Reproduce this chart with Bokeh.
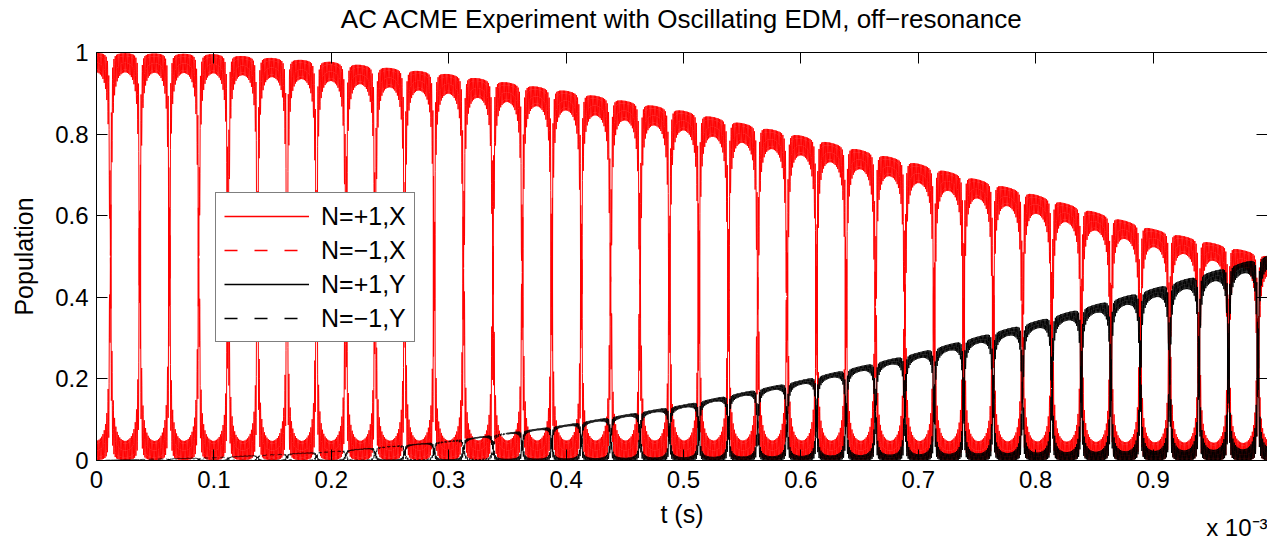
import numpy as np
from bokeh.plotting import figure
from bokeh.models import (LinearAxis, FixedTicker, NumeralTickFormatter, Legend,
                          LegendItem, Range1d, Title)
from bokeh.embed import file_html
from bokeh.resources import INLINE

# ---------------- values (time in units of 1e-3 s) ----------------
env_t = [0.0, 0.1, 0.2, 0.3, 0.4, 0.5, 0.6, 0.7, 0.8, 0.9, 1.0]
red_level = [1.0, 0.997, 0.978, 0.948, 0.907, 0.858, 0.797, 0.728, 0.652, 0.568, 0.500]
black_level = [0.0, 0.007, 0.022, 0.048, 0.088, 0.137, 0.197, 0.265, 0.342, 0.422, 0.505]
red_ripple = [0.047, 0.047, 0.047, 0.048, 0.048, 0.048, 0.048, 0.047, 0.046, 0.044, 0.042]
black_ripple = [0.0, 0.0005, 0.0012, 0.003, 0.005, 0.008, 0.011, 0.015, 0.019, 0.023, 0.028]
flip_first = 0.0119      # first population swap (1e-3 s)
flip_period = 0.02506    # spacing of the swaps (1e-3 s)
fast_period = 0.0011     # period of the fast ripple (1e-3 s)
dash_until = 0.35        # the thin N=-1,Y trace shows its dashes up to here

title_text = "AC ACME Experiment with Oscillating EDM, off\u2212resonance"
series_names = ["N=+1,X", "N=\u22121,X", "N=+1,Y", "N=\u22121,Y"]
series_colors = ["#ff0000", "#ff0000", "#000000", "#000000"]
series_dash = ["solid", "13 17", "solid", "13 17"]
x_ticks = [0.0, 0.1, 0.2, 0.3, 0.4, 0.5, 0.6, 0.7, 0.8, 0.9]
y_ticks = [0.0, 0.2, 0.4, 0.6, 0.8, 1.0]

# ---------------- build the four population curves ----------------
t = np.arange(0.0, 1.0, fast_period / 8.0)
R = np.interp(t, env_t, red_level)
B = np.interp(t, env_t, black_level)
dR = np.interp(t, env_t, red_ripple)
dB = np.interp(t, env_t, black_ripple)

k = np.clip(np.round((t - flip_first) / flip_period), 0, None)
tau = t - (flip_first + k * flip_period)
w = 0.03 * flip_period
f = (tau / w) / np.sqrt(1.0 + (tau / w) ** 2)
parity = np.where(k % 2 == 0, 1.0, -1.0)
frac = np.minimum(np.abs(tau) / flip_period, 0.5)
shape = 1.0 / np.maximum(np.sin(np.pi * frac), 1e-3) ** 0.8
osc = 0.5 + 0.5 * np.cos(2 * np.pi * t / fast_period)


def pair(level, ripple, pstate):
    s = np.sign(pstate - 0.5)
    deff = np.minimum(ripple * shape, 0.95 * level * np.abs(2 * pstate - 1))
    up = level * pstate - s * deff * osc
    return up, level - up


p_red = 0.5 - 0.5 * parity * f
p_black = 1.0 - p_red
red_a, red_b = pair(R, dR, p_red)
blk_a, blk_b = pair(B, dB, p_black)
curves = [red_a, red_b, blk_a, blk_b]

# ---------------- figure ----------------
FONT = "Liberation Sans"
W, H = 1267, 540
LEFT, TOP, BOTTOM = 96, 50, 80
x_end = (W - LEFT) / 1174.0

p = figure(width=W, height=H,
           x_range=Range1d(0, x_end), y_range=Range1d(0, 1),
           output_backend="svg", toolbar_location=None,
           min_border_left=LEFT, min_border_right=0, min_border_top=TOP,
           min_border_bottom=BOTTOM)
p.background_fill_color = "white"
p.border_fill_color = "white"
p.outline_line_color = None
p.xgrid.visible = False
p.ygrid.visible = False

# data curves (drawn solid where the fast ripple hides the dash pattern)
for i, (yv, col) in enumerate(zip(curves, series_colors)):
    if i == 3:
        m1 = t <= dash_until
        m2 = t >= dash_until
        p.line(t[m1], yv[m1], line_color=col, line_width=1.0, line_dash="5 4")
        p.line(t[m2], yv[m2], line_color=col, line_width=1.0)
    else:
        p.line(t, yv, line_color=col, line_width=1.0)

# legend swatches (one hidden point each)
renderers = []
for col, dash in zip(series_colors, series_dash):
    renderers.append(p.line([np.nan, np.nan], [np.nan, np.nan], line_color=col,
                            line_width=1.3, line_dash=dash))

# axes
xa = p.xaxis[0]
ya = p.yaxis[0]
for ax in (xa, ya):
    ax.major_tick_in = 11
    ax.major_tick_out = 0
    ax.minor_tick_line_color = None
    ax.axis_line_color = "black"
    ax.major_tick_line_color = "black"
    ax.major_label_text_font = FONT
    ax.major_label_text_font_size = "24px"
    ax.major_label_text_color = "black"
    ax.axis_label_text_font = FONT
    ax.axis_label_text_font_size = "25px"
    ax.axis_label_text_font_style = "normal"
    ax.axis_label_text_color = "black"
    ax.formatter = NumeralTickFormatter(format="0.[0]")
xa.ticker = FixedTicker(ticks=x_ticks)
ya.ticker = FixedTicker(ticks=y_ticks)
xa.axis_label = "t (s)"
ya.axis_label = "Population"
xa.major_label_standoff = 10
xa.axis_label_standoff = 9
ya.major_label_standoff = 8
ya.axis_label_standoff = 14

# top box edge with inward ticks; it also carries the chart title
top = LinearAxis(ticker=FixedTicker(ticks=x_ticks), major_tick_in=11, major_tick_out=0,
                 minor_tick_line_color=None, major_label_text_font_size="0px",
                 major_label_text_color=None, major_label_standoff=0,
                 axis_line_color="black",
                 axis_label=title_text, axis_label_text_font=FONT,
                 axis_label_text_font_size="26px", axis_label_text_font_style="normal",
                 axis_label_text_color="black", axis_label_standoff=19)
p.add_layout(top, "above")
right = LinearAxis(ticker=FixedTicker(ticks=y_ticks), major_tick_in=11, major_tick_out=0,
                   minor_tick_line_color=None, major_label_text_font_size="1px",
                   major_label_text_color=None, major_label_standoff=0,
                   axis_line_color=None)
p.add_layout(right, "right")

legend = Legend(items=[LegendItem(label=n, renderers=[r]) for n, r in zip(series_names, renderers)],
                location=(119, 118), orientation="vertical",
                border_line_color="black", border_line_width=1.2,
                background_fill_color="white", background_fill_alpha=1.0,
                label_text_font=FONT, label_text_font_size="25px", label_text_color="black",
                glyph_width=85, glyph_height=30, label_height=30,
                label_standoff=12, padding=8, spacing=4, margin=0)
p.add_layout(legend)

scale_note = Title(text="x 10\u207b\u00b3", align="right", vertical_align="top",
                   text_font=FONT, text_font_size="24px", text_font_style="normal",
                   text_color="black", standoff=-34)
p.add_layout(scale_note, "below")

open("out.html", "w").write(file_html(p, INLINE))
